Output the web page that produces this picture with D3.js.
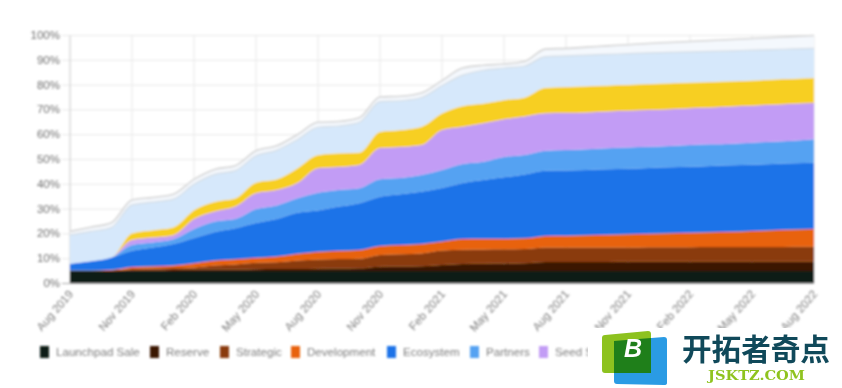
<!DOCTYPE html>
<html>
<head>
<meta charset="utf-8">
<script src="https://cdn.jsdelivr.net/npm/d3@7"></script>
<style>
  html, body { margin: 0; padding: 0; background: #fff; }
  svg { display: block; }
  text { font-family: "Liberation Sans", Arial, sans-serif; }
</style>
</head>
<body>
<svg id="chart" width="842" height="388"></svg>
<script>
// one entry per month, Aug 2019 to Aug 2022
var months = d3.range(37);
var tickMonths = [0, 3, 6, 9, 12, 15, 18, 21, 24, 27, 30, 33, 36];
var tickLabels = ['Aug 2019', 'Nov 2019', 'Feb 2020', 'May 2020', 'Aug 2020', 'Nov 2020', 'Feb 2021',
    'May 2021', 'Aug 2021', 'Nov 2021', 'Feb 2022', 'May 2022', 'Aug 2022'];
var yTicks = [0, 10, 20, 30, 40, 50, 60, 70, 80, 90, 100];

// running totals, each list is the top edge of that band (%)
var launchpadTop = [5, 5, 5, 5, 5, 5, 5, 5, 5, 5, 5, 5, 5, 5, 5, 5, 5, 5, 5, 5, 5, 5, 5, 5, 5, 5, 5, 5, 5, 5, 5, 5, 5, 5, 5, 5, 5];
var reserveTop = [5, 5, 5, 5.3, 5.3, 5.4, 5.5, 5.6, 5.6, 5.7, 5.8, 5.8, 5.9, 6, 6.1, 6.8, 6.9, 7, 7.5, 7.9, 8, 8.1, 8.2, 8.7, 8.7, 8.7, 8.7, 8.8, 8.8, 8.8, 8.8, 8.8, 8.8, 8.8, 8.8, 8.8, 8.8];
var strategicTop = [5, 5, 5.2, 5.8, 6, 6.2, 6.5, 7.3, 7.7, 8.4, 8.6, 9.3, 9.7, 9.9, 10, 11.5, 11.8, 12.1, 13.3, 13.6, 13.7, 13.8, 13.9, 14.5, 14.5, 14.5, 14.5, 14.5, 14.6, 14.6, 14.6, 14.7, 14.7, 14.7, 14.7, 14.8, 14.8];
var developmentTop = [5.2, 5.2, 5.5, 6.7, 7, 7.3, 8.2, 9.3, 9.8, 10.4, 10.9, 12, 12.8, 13.2, 13.5, 15.1, 15.5, 15.9, 16.9, 17.9, 18, 18, 18.2, 19.2, 19.3, 19.5, 19.7, 19.9, 20.1, 20.3, 20.5, 20.7, 20.9, 21.2, 21.5, 21.8, 22];
var ecosystemTop = [8, 9, 10.5, 13.2, 14.5, 15.9, 18.3, 20.8, 22.3, 24.4, 26, 28.5, 29.4, 31, 32.4, 35, 36, 37, 38.5, 40.5, 41.7, 42.8, 44, 45.5, 45.6, 45.8, 46.1, 46.3, 46.6, 46.9, 47.1, 47.4, 47.7, 47.9, 48.2, 48.5, 48.7];
var partnersTop = [8, 9, 10.5, 15.5, 16.5, 17.8, 22, 25, 26, 30, 31.5, 34.4, 36.6, 37.7, 38.4, 42, 42.5, 43.7, 45.8, 48.2, 49.1, 51, 51.8, 53.5, 53.8, 54.1, 54.5, 54.8, 55.1, 55.4, 55.8, 56.1, 56.4, 56.8, 57.2, 57.6, 58.2];
var seedTop = [8, 9, 10.5, 17.5, 18.5, 19.5, 26, 29, 31, 36.4, 37.7, 40.5, 46.5, 47, 47.8, 54.6, 55, 55.8, 61.9, 63.2, 64.6, 66.2, 67.3, 68.6, 68.7, 69, 69.4, 69.7, 70, 70.3, 70.7, 71, 71.4, 71.7, 72.1, 72.5, 72.8];
var privateTop = [8, 9, 10.5, 20.3, 21.5, 22.7, 29.6, 33, 34.4, 40.7, 42, 46.5, 51.8, 52.5, 52.8, 61.2, 61.9, 63.2, 68.6, 71.6, 72.6, 74, 75, 78.9, 79.2, 79.5, 79.8, 80.1, 80.4, 80.7, 81, 81.3, 81.6, 81.9, 82.3, 82.6, 82.9];
var publicTop = [19.6, 21, 22.6, 31.7, 32.8, 34, 40, 44, 45.5, 51.5, 53.7, 58, 63, 63.5, 65, 73.3, 73.7, 75, 79.8, 84, 86, 86.9, 87.7, 91.5, 91.8, 92.1, 92.4, 92.7, 93, 93.2, 93.4, 93.6, 93.8, 94.1, 94.3, 94.6, 94.8];
var advisorsTop = [21, 22.7, 24.5, 33.7, 34.7, 36, 42, 46, 47.5, 53.5, 55.5, 60, 65, 65.3, 66.8, 75.2, 75.5, 76.8, 81.8, 86.9, 88, 88.5, 89.5, 94.5, 94.8, 95.3, 95.8, 96.3, 96.8, 97.2, 97.6, 98, 98.4, 98.8, 99.2, 99.6, 100];

var bandNames = ['Launchpad Sale', 'Reserve', 'Strategic', 'Development', 'Ecosystem', 'Partners', 'Seed Sale', 'Private', 'Public', 'Advisors'];
var bandTops = [launchpadTop, reserveTop, strategicTop, developmentTop, ecosystemTop, partnersTop, seedTop, privateTop, publicTop, advisorsTop];
var bandColors = ['#0f1a14', '#3a1605', '#8a3a08', '#e8620a', '#1a73e8', '#54a2f2', '#c29cf5', '#f7cf24', '#d6e8fb', '#f4f8fd'];

var svg = d3.select('#chart');
var padding = {t: 35.5, r: 28, b: 104.5, l: 70};
var chartWidth = +svg.attr('width') - padding.l - padding.r;
var chartHeight = +svg.attr('height') - padding.t - padding.b;

// the reference is a soft, upscaled screenshot (below 0.8 the browser skips the blur)
var defs = svg.append('defs');
defs.append('filter').attr('id', 'soft')
    .attr('x', '-5%').attr('y', '-5%').attr('width', '110%').attr('height', '110%')
    .append('feGaussianBlur').attr('stdDeviation', 0.8);

var xScale = d3.scaleLinear().domain([0, 36]).range([0, chartWidth]);
var yScale = d3.scaleLinear().domain([0, 100]).range([chartHeight, 0]);

var chartG = svg.append('g')
    .attr('transform', 'translate(' + [padding.l, padding.t] + ')')
    .attr('filter', 'url(#soft)');

// grid
chartG.append('g').selectAll('line').data(yTicks).enter().append('line')
    .attr('x1', -8).attr('x2', chartWidth)
    .attr('y1', d => yScale(d)).attr('y2', d => yScale(d))
    .attr('stroke', '#e8e8e8');
chartG.append('g').selectAll('line').data(tickMonths).enter().append('line')
    .attr('x1', d => xScale(d)).attr('x2', d => xScale(d))
    .attr('y1', 0).attr('y2', chartHeight)
    .attr('stroke', (d, i) => i === 0 ? '#c8c8c8' : '#e8e8e8');

// bands, top ones drawn from their own lower edge
var area = d3.area()
    .x(d => xScale(d.m))
    .y0(d => yScale(d.low))
    .y1(d => yScale(d.high))
    .curve(d3.curveMonotoneX);

bandTops.forEach(function(tops, i) {
    var lower = i === 0 ? null : bandTops[i - 1];
    var rows = months.map(m => ({m: m, low: lower ? lower[m] : 0, high: tops[m]}));
    chartG.append('path')
        .attr('d', area(rows))
        .attr('fill', bandColors[i]);
});

// grey outlines on the two top bands
var topLine = d3.line().x(m => xScale(m)).y(m => yScale(advisorsTop[m])).curve(d3.curveMonotoneX);
chartG.append('path').attr('d', topLine(months))
    .attr('fill', 'none').attr('stroke', '#d6d6d6').attr('stroke-width', 1.6);
var publicLine = d3.line().x(m => xScale(m)).y(m => yScale(publicTop[m])).curve(d3.curveMonotoneX);
chartG.append('path').attr('d', publicLine(months))
    .attr('fill', 'none').attr('stroke', '#d4dce4').attr('stroke-width', 1.2);

chartG.append('line')
    .attr('x1', -8).attr('x2', chartWidth)
    .attr('y1', chartHeight).attr('y2', chartHeight)
    .attr('stroke', '#aaaaaa');

// axes
var textG = svg.append('g').attr('filter', 'url(#soft)');
textG.selectAll('.y-label').data(yTicks).enter().append('text')
    .attr('class', 'y-label')
    .attr('x', padding.l - 10)
    .attr('y', d => padding.t + yScale(d) + 3.5)
    .attr('text-anchor', 'end')
    .attr('font-size', 11.5)
    .attr('fill', '#6f6f6f')
    .text(d => d + '%');

textG.selectAll('.x-label').data(tickMonths).enter().append('text')
    .attr('class', 'x-label')
    .attr('text-anchor', 'end')
    .attr('font-size', 11.5)
    .attr('fill', '#7c7c7c')
    .attr('transform', d => 'translate(' + (padding.l + xScale(d) + 4) + ',' + (padding.t + chartHeight + 11) + ') rotate(-49)')
    .text((d, i) => tickLabels[i]);

// legend
var legendX = [40, 150, 220, 291, 387, 470, 539];
var legendG = textG.selectAll('.legend').data(bandNames.slice(0, 7)).enter().append('g')
    .attr('class', 'legend')
    .attr('transform', (d, i) => 'translate(' + legendX[i] + ',346)');
legendG.append('rect').attr('width', 9).attr('height', 12).attr('fill', (d, i) => bandColors[i]);
legendG.append('text').attr('x', 16).attr('y', 10).attr('font-size', 11.6).attr('fill', '#7c7c7c').text(d => d);

// watermark sits over the corner of the chart
svg.append('rect').attr('x', 588).attr('y', 328).attr('width', 254).attr('height', 60).attr('fill', '#ffffff');
var mark = svg.append('g');
mark.append('path').attr('d', 'M614 341 L664 337 Q667 337 667 340 L667 383 Q667 385 664 385 L617 384 Q614 384 614 381 Z').attr('fill', '#2a9be4');
mark.append('path').attr('d', 'M602 338 Q602 335 605 335 L648 331 Q651 331 651 334 L651 370 Q651 373 648 373 L605 373 Q602 373 602 370 Z').attr('fill', '#8dc21f');
mark.append('path').attr('d', 'M614 341 L651 338 L651 373 L614 373 Z').attr('fill', '#1f7f1a');
mark.append('text').attr('x', 624).attr('y', 357).attr('font-size', 25).attr('font-weight', 'bold')
    .attr('font-style', 'italic').attr('fill', '#ffffff').text('B');
mark.append('text').attr('x', 682).attr('y', 360).attr('font-size', 29.6).attr('font-weight', 'bold')
    .style('font-family', '"Noto Sans CJK SC"').attr('fill', '#10495a').text('开拓者奇点');
mark.append('text').attr('x', 708).attr('y', 380).attr('font-size', 13).attr('font-weight', 'bold')
    .attr('textLength', 97).attr('lengthAdjust', 'spacingAndGlyphs')
    .style('font-family', '"DejaVu Serif"').attr('fill', '#8fc31f').text('JSKTZ.COM');
</script>
</body>
</html>
